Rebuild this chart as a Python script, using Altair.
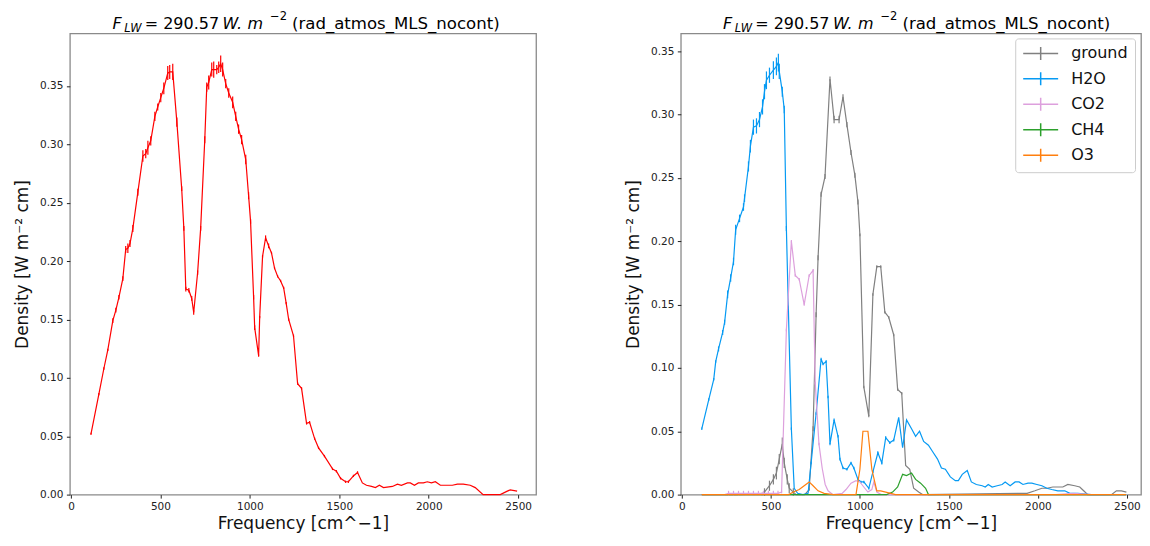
import altair as alt
import pandas as pd

# ---------------- data ----------------
tot_f = [112, 156, 184, 206, 234, 251, 268, 290, 306, 318, 330, 346, 374, 402, 418, 430, 446, 469, 485, 502,
         519, 541, 552, 569, 592, 619, 631, 642, 659, 675, 686, 708, 725, 748, 759, 770, 787, 798, 815, 826,
         837, 848, 865, 882, 904, 921, 937, 954, 977, 993, 1004, 1021, 1027, 1049, 1055, 1071, 1088, 1105, 1121, 1138,
         1155, 1172, 1189, 1203, 1217, 1244, 1267, 1289, 1317, 1334, 1362, 1384, 1417, 1462, 1484, 1507, 1535, 1551, 1579, 1602,
         1629, 1652, 1680, 1702, 1724, 1747, 1797, 1825, 1847, 1881, 1897, 1920, 1942, 1970, 1992, 2015, 2037, 2065, 2104, 2132,
         2160, 2193, 2232, 2260, 2304, 2400, 2439, 2455, 2494]
tot_v = [0.052, 0.086, 0.108, 0.124, 0.149, 0.158, 0.169, 0.185, 0.210, 0.211, 0.215, 0.228, 0.259, 0.290, 0.292, 0.297, 0.303, 0.324, 0.332, 0.340,
         0.348, 0.361, 0.362, 0.362, 0.319, 0.262, 0.228, 0.176, 0.175, 0.168, 0.156, 0.190, 0.228, 0.304, 0.349, 0.353, 0.364, 0.364, 0.364, 0.366,
         0.369, 0.364, 0.352, 0.344, 0.336, 0.324, 0.313, 0.304, 0.287, 0.256, 0.234, 0.169, 0.143, 0.119, 0.152, 0.204, 0.220, 0.213, 0.207, 0.194,
         0.187, 0.183, 0.177, 0.164, 0.150, 0.136, 0.095, 0.091, 0.061, 0.062, 0.048, 0.040, 0.033, 0.022, 0.020, 0.014, 0.011, 0.011, 0.016, 0.019,
         0.010, 0.008, 0.007, 0.006, 0.008, 0.006, 0.007, 0.009, 0.008, 0.010, 0.010, 0.008, 0.010, 0.010, 0.011, 0.010, 0.011, 0.008, 0.008, 0.008,
         0.009, 0.009, 0.008, 0.006, 0.000, 0.000, 0.003, 0.004, 0.003]
tot_e = [0.001, 0.001, 0.001, 0.001, 0.002, 0.002, 0.002, 0.002, 0.003, 0.004, 0.003, 0.003, 0.003, 0.005, 0.004, 0.006, 0.004, 0.004, 0.003, 0.004,
         0.005, 0.006, 0.006, 0.007, 0.004, 0.002, 0.002, 0.002, 0.002, 0.002, 0.002, 0.002, 0.002, 0.003, 0.004, 0.006, 0.006, 0.007, 0.004, 0.005,
         0.007, 0.006, 0.004, 0.004, 0.005, 0.004, 0.004, 0.004, 0.004, 0.003, 0.002, 0.002, 0.002, 0.001, 0.001, 0.001, 0.002, 0.002, 0.001, 0.001,
         0.001, 0.001, 0.001, 0.001, 0.001, 0.001, 0.001, 0.001, 0.001, 0.001, 0.001, 0.001, 0.001, 0.001, 0.001, 0.001, 0.001, 0.001, 0.001, 0.001,
         0.0, 0.0, 0.0, 0.0, 0.0, 0.0, 0.0, 0.0, 0.0, 0.0, 0.0, 0.0, 0.0, 0.0, 0.0, 0.0, 0.0, 0.0, 0.0, 0.0,
         0.0, 0.0, 0.0, 0.0, 0.0, 0.0, 0.0, 0.0, 0.0]

ground_f = [112, 300, 450, 464, 492, 514, 531, 547, 564, 575, 592, 603, 626, 642, 690, 715, 737, 754, 765, 782,
            804, 832, 855, 883, 905, 927, 950, 972, 989, 1000, 1022, 1050, 1073, 1095, 1117, 1140, 1162, 1190, 1212, 1235,
            1257, 1280, 1302, 1330, 1352, 1939, 1983, 2022, 2050, 2084, 2112, 2140, 2168, 2207, 2235, 2257, 2280, 2413, 2441, 2469,
            2497]
ground_v = [0.0, 0.0, 0.0005, 0.002, 0.007, 0.012, 0.017, 0.028, 0.040, 0.025, 0.012, 0.005, 0.002, 0.0, 0.0, 0.004, 0.052, 0.142, 0.187, 0.237,
            0.251, 0.328, 0.296, 0.296, 0.314, 0.292, 0.270, 0.252, 0.231, 0.205, 0.085, 0.062, 0.158, 0.180, 0.180, 0.144, 0.140, 0.126, 0.083, 0.080,
            0.023, 0.020, 0.005, 0.002, 0.0, 0.001, 0.003, 0.005, 0.005, 0.006, 0.006, 0.006, 0.008, 0.007, 0.006, 0.003, 0.0, 0.0, 0.003, 0.003,
            0.002]
ground_e = [0.0, 0.0, 0.001, 0.003, 0.004, 0.004, 0.005, 0.004, 0.005, 0.004, 0.004, 0.004, 0.003, 0.0, 0.0, 0.001, 0.002, 0.002, 0.002, 0.002,
            0.002, 0.002, 0.003, 0.003, 0.002, 0.002, 0.002, 0.002, 0.002, 0.001, 0.001, 0.001, 0.001, 0.001, 0.001, 0.001, 0.001, 0.001, 0.001, 0.001,
            0.0, 0.0, 0.0, 0.0, 0.0, 0.0, 0.0, 0.0, 0.0, 0.0, 0.0, 0.0, 0.0, 0.0, 0.0, 0.0, 0.0, 0.0, 0.0, 0.0,
            0.0]

h2o_f = [112, 151, 179, 190, 206, 229, 240, 257, 274, 290, 302, 324, 346, 352, 374, 385, 402, 419, 436, 453,
         464, 475, 492, 514, 531, 542, 547, 564, 575, 587, 598, 615, 631, 650, 680, 709, 726, 754, 782, 793,
         810, 821, 832, 855, 877, 888, 905, 927, 950, 966, 989, 1006, 1022, 1050, 1073, 1101, 1123, 1145, 1168, 1190,
         1218, 1240, 1262, 1290, 1313, 1335, 1358, 1385, 1408, 1436, 1458, 1480, 1508, 1536, 1553, 1575, 1603, 1626, 1654, 1687,
         1704, 1721, 1743, 1771, 1799, 1816, 1844, 1872, 1894, 1916, 1944, 1966, 1994, 2022, 2050, 2078, 2112, 2151, 2179, 2224,
         2300, 2400, 2494]
h2o_v = [0.052, 0.075, 0.091, 0.105, 0.115, 0.128, 0.136, 0.158, 0.171, 0.184, 0.209, 0.218, 0.227, 0.234, 0.259, 0.275, 0.290, 0.291, 0.296, 0.306,
         0.318, 0.327, 0.331, 0.335, 0.338, 0.341, 0.334, 0.318, 0.304, 0.210, 0.148, 0.052, 0.005, 0.001, 0.0, 0.001, 0.025, 0.064, 0.107, 0.103,
         0.105, 0.077, 0.040, 0.059, 0.046, 0.028, 0.021, 0.020, 0.025, 0.021, 0.012, 0.010, 0.010, 0.005, 0.018, 0.033, 0.025, 0.045, 0.041, 0.043,
         0.061, 0.037, 0.059, 0.052, 0.046, 0.050, 0.042, 0.039, 0.034, 0.028, 0.021, 0.020, 0.014, 0.011, 0.011, 0.016, 0.019, 0.010, 0.008, 0.007,
         0.006, 0.008, 0.006, 0.007, 0.008, 0.010, 0.007, 0.010, 0.010, 0.008, 0.009, 0.009, 0.008, 0.007, 0.005, 0.004, 0.003, 0.003, 0.001, 0.001,
         0.0, 0.0, 0.0]
h2o_e = [0.001, 0.001, 0.001, 0.001, 0.002, 0.002, 0.002, 0.003, 0.003, 0.003, 0.004, 0.003, 0.003, 0.003, 0.004, 0.005, 0.006, 0.006, 0.006, 0.006,
         0.006, 0.007, 0.006, 0.007, 0.007, 0.007, 0.006, 0.004, 0.003, 0.002, 0.001, 0.001, 0.0, 0.0, 0.0, 0.0, 0.001, 0.001, 0.001, 0.001,
         0.001, 0.001, 0.001, 0.001, 0.001, 0.001, 0.001, 0.001, 0.001, 0.001, 0.001, 0.001, 0.001, 0.001, 0.001, 0.001, 0.001, 0.001, 0.001, 0.001,
         0.0, 0.0, 0.0, 0.0, 0.0, 0.0, 0.0, 0.0, 0.0, 0.0, 0.0, 0.0, 0.0, 0.0, 0.0, 0.0, 0.0, 0.0, 0.0, 0.0,
         0.0, 0.0, 0.0, 0.0, 0.0, 0.0, 0.0, 0.0, 0.0, 0.0, 0.0, 0.0, 0.0, 0.0, 0.0, 0.0, 0.0, 0.0, 0.0, 0.0,
         0.0, 0.0, 0.0]

co2_f = [112, 240, 262, 290, 318, 346, 374, 402, 430, 458, 486, 514, 540, 560, 587, 615, 637, 659, 687, 715,
         737, 749, 770, 788, 805, 821, 849, 900, 922, 950, 978, 1000, 1022, 1045, 1067, 1078, 1095, 1120, 2100, 2200,
         2300, 2494]
co2_v = [0.0, 0.0, 0.001, 0.001, 0.001, 0.001, 0.001, 0.001, 0.001, 0.001, 0.001, 0.001, 0.001, 0.002, 0.130, 0.200, 0.173, 0.170, 0.150, 0.173,
         0.177, 0.088, 0.040, 0.021, 0.008, 0.003, 0.0, 0.001, 0.004, 0.009, 0.011, 0.010, 0.006, 0.002, 0.004, 0.010, 0.002, 0.0, 0.0, 0.001,
         0.0, 0.0]
co2_e = [0.0, 0.0, 0.002, 0.002, 0.002, 0.002, 0.002, 0.002, 0.002, 0.002, 0.002, 0.002, 0.002, 0.001, 0.001, 0.001, 0.001, 0.001, 0.001, 0.001,
         0.001, 0.001, 0.001, 0.0, 0.0, 0.0, 0.0, 0.0, 0.0, 0.0, 0.0, 0.0, 0.0, 0.0, 0.0, 0.0, 0.0, 0.0, 0.0, 0.0,
         0.0, 0.0]

ch4_f = [112, 1150, 1184, 1212, 1240, 1262, 1290, 1313, 1341, 1369, 1385, 2494]
ch4_v = [0.0, 0.0, 0.002, 0.006, 0.016, 0.015, 0.017, 0.012, 0.009, 0.005, 0.0, 0.0]

o3_f = [112, 600, 626, 659, 687, 715, 737, 765, 799, 850, 978, 1000, 1017, 1045, 1067, 1095, 1117, 1145, 1173, 1200, 2494]
o3_v = [0.0, 0.0, 0.002, 0.004, 0.007, 0.010, 0.007, 0.003, 0.001, 0.0, 0.0, 0.020, 0.050, 0.050, 0.020, 0.003, 0.003, 0.002, 0.001, 0.0, 0.0]

species = ["ground", "H2O", "CO2", "CH4", "O3"]
colors = ["#808080", "#069af3", "#dda0dd", "#2ca02c", "#ff7f0e"]
y_ticks = [0.0, 0.05, 0.10, 0.15, 0.20, 0.25, 0.30, 0.35]
x_ticks = [0, 500, 1000, 1500, 2000, 2500]

FONT = "DejaVu Sans"
W_L, W_R, H = 467, 461, 462

def frame(f, v, e=None, name=""):
    d = pd.DataFrame({"f": f, "v": v})
    d["e"] = e if e is not None else 0.0
    d["species"] = name
    d["lo"] = d["v"] - d["e"]
    d["hi"] = d["v"] + d["e"]
    return d

def xenc(xmax):
    return alt.X("f:Q", scale=alt.Scale(domain=[-6, xmax], nice=False, zero=False),
                 axis=alt.Axis(values=x_ticks, format="d", title="Frequency [cm^\u22121]"))

def yenc(ymax):
    return alt.Y("v:Q", scale=alt.Scale(domain=[0, ymax], nice=False, zero=False),
                 axis=alt.Axis(values=y_ticks, format=".2f", title="Density [W m\u207b\u00b2 cm]"))

def title_layers(c):
    pieces = [("F", -190.8, -4, 16, "italic"),
              ("LW", -179.0, -1.3, 11.5, "italic"),
              ("= 290.57", -158.5, -4, 16, "normal"),
              ("W.", -80.5, -4, 16, "italic"),
              ("m", -55.5, -4, 16, "italic"),
              ("\u22122", -33.0, -13, 11.5, "normal"),
              ("(rad_atmos_MLS_nocont)", -11.0, -4, 16.6, "normal")]
    one = pd.DataFrame({"k": [0]})
    out = []
    for txt, dx, dy, fs, st in pieces:
        out.append(alt.Chart(one).mark_text(text=txt, align="left", baseline="alphabetic", font=FONT,
                                            fontSize=fs, fontStyle=st, color="#000000")
                   .encode(x=alt.value(c + dx), y=alt.value(dy)))
    return out

# ---------------- left panel ----------------
tot = frame(tot_f, tot_v, tot_e, "total")
xl = xenc(2600)
yl = yenc(0.395)
left_line = alt.Chart(tot).mark_line(color="#ff0000", strokeWidth=1.2).encode(x=xl, y=yl)
left_err = alt.Chart(tot).mark_rule(color="#ff0000", strokeWidth=1.2).encode(x="f:Q", y="lo:Q", y2="hi:Q")
left = alt.layer(left_line, left_err, *title_layers(W_L / 2)).properties(width=W_L, height=H)

# ---------------- right panel ----------------
frames = [frame(ground_f, ground_v, ground_e, "ground"),
          frame(h2o_f, h2o_v, h2o_e, "H2O"),
          frame(co2_f, co2_v, co2_e, "CO2"),
          frame(ch4_f, ch4_v, None, "CH4"),
          frame(o3_f, o3_v, None, "O3")]
cscale = alt.Scale(domain=species, range=colors)
legend = alt.Legend(title=None, orient="none", legendX=947, legendY=5,
                    labelFont=FONT, labelFontSize=16, labelColor="#111111", labelOffset=33,
                    symbolType="M-1,0L4,0M1.5,-0.93L1.5,0.93", symbolSize=196, symbolStrokeWidth=1.5,
                    rowPadding=5.5, padding=7, strokeColor="#cccccc", fillColor="white", cornerRadius=3)
xr = xenc(2579)
yr = yenc(0.364)
layers = []
for d in frames:
    layers.append(alt.Chart(d).mark_line(strokeWidth=1.2).encode(
        x=xr, y=yr, color=alt.Color("species:N", scale=cscale, legend=legend)))
    layers.append(alt.Chart(d).mark_rule(strokeWidth=1.2).encode(
        x="f:Q", y="lo:Q", y2="hi:Q", color=alt.Color("species:N", scale=cscale, legend=legend)))
right = alt.layer(*layers, *title_layers(233.0)).properties(width=W_R, height=H)

chart = alt.hconcat(left, right, spacing=145, bounds="flush").properties(
    padding={"left": 4, "top": 2, "right": 0, "bottom": 0}
).configure_view(stroke="#8a8a8a", strokeWidth=1.3).configure_axis(
    labelFont=FONT, titleFont=FONT, labelFontSize=10.5, titleFontSize=17, titleFontWeight="normal",
    labelColor="#222222", titleColor="#111111", grid=False, domain=False,
    tickColor="#222222", tickSize=3.5, tickWidth=1, labelPadding=3.5
).configure_axisX(titlePadding=3).configure_axisY(titlePadding=8)

chart.save("out.html", embed_options={"renderer": "svg", "actions": False})
